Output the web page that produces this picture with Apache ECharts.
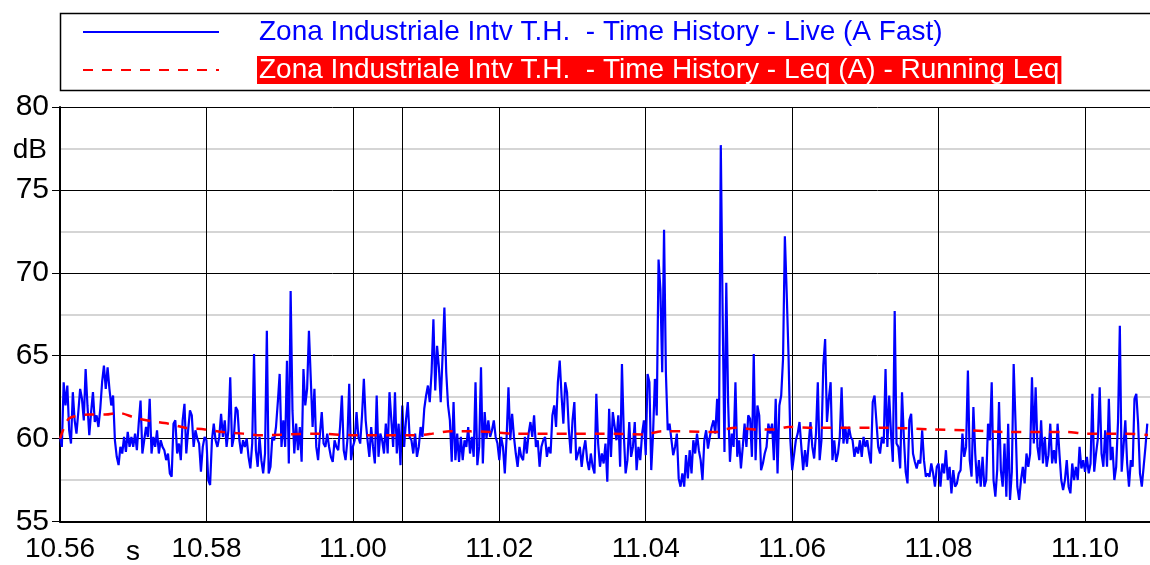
<!DOCTYPE html>
<html>
<head>
<meta charset="utf-8">
<title>Zona Industriale - Time History</title>
<script src="https://cdn.jsdelivr.net/npm/echarts@6/dist/echarts.min.js"></script>
<style>
  html, body { margin: 0; padding: 0; background: #fff; }
  #chart { width: 1150px; height: 565px; }
</style>
</head>
<body>
<div id="chart"></div>
<script>
// record starts at 10.56, one Live sample every 1.5 s (0.025 min)
const startHour = 10
const startMinute = 56
const sampleStepMin = 0.025
const cursorMin = 4.67

const liveName = 'Zona Industriale Intv T.H.  - Time History - Live (A Fast)'
const leqName = 'Zona Industriale Intv T.H.  - Time History - Leq (A) - Running Leq'

// Live (A Fast), dB
const liveDb = [
  60.1, 59.5, 63.4, 62.0, 63.2, 60.5, 59.7, 62.8, 61.1, 60.3,
  61.6, 63.0, 62.4, 61.1, 64.2, 62.0, 60.2, 61.6, 62.8, 61.0,
  61.4, 60.7, 61.8, 63.4, 64.4, 63.0, 64.3, 63.0, 62.0, 62.6,
  59.9, 58.9, 58.4, 59.5, 59.1, 60.1, 59.2, 60.4, 59.5, 60.1,
  59.5, 60.3, 59.3, 60.9, 62.3, 59.1, 59.9, 60.7, 60.1, 62.4,
  59.1, 60.1, 59.5, 60.5, 59.1, 59.9, 59.5, 59.3, 58.7, 59.1,
  57.9, 57.7, 60.9, 61.1, 59.1, 59.7, 58.7, 61.1, 62.1, 59.1,
  60.5, 61.7, 61.4, 59.5, 60.5, 60.0, 59.7, 58.0, 59.5, 60.1,
  59.9, 57.5, 57.2, 59.9, 60.9, 59.9, 59.5, 60.1, 61.5, 60.1,
  61.1, 59.5, 60.5, 63.7, 59.5, 60.1, 61.9, 61.7, 59.9, 59.1,
  59.9, 59.5, 60.0, 58.9, 58.2, 59.7, 65.1, 59.3, 58.3, 60.1,
  58.7, 57.9, 59.1, 66.5, 57.9, 58.3, 60.1, 59.9, 60.7, 62.2,
  63.9, 59.5, 61.1, 59.5, 64.7, 58.5, 68.9, 61.7, 59.1, 60.9,
  59.3, 60.7, 58.6, 64.2, 62.0, 63.0, 66.5, 63.6, 60.7, 63.0,
  59.5, 58.7, 60.3, 61.6, 59.7, 59.5, 60.3, 59.5, 58.9, 58.6,
  59.9, 59.5, 59.3, 60.7, 62.6, 59.3, 58.7, 59.9, 63.3, 58.7,
  59.5, 59.9, 61.6, 60.1, 59.7, 61.4, 63.6, 61.1, 59.9, 58.9,
  60.7, 59.5, 58.5, 62.6, 58.9, 60.3, 59.9, 59.1, 60.9, 59.1,
  62.8, 62.9, 59.5, 62.8, 59.1, 60.9, 58.4, 62.0, 59.5, 61.1,
  62.2, 60.1, 59.9, 59.1, 60.3, 58.9, 59.5, 60.7, 60.1, 61.8,
  62.6, 63.2, 62.2, 64.0, 67.2, 62.9, 65.6, 64.3, 62.2, 65.0,
  67.9, 64.0, 62.0, 61.1, 58.6, 62.2, 58.7, 60.3, 58.6, 60.1,
  58.7, 59.9, 59.5, 60.7, 59.1, 60.1, 58.9, 63.4, 58.4, 59.5,
  64.3, 58.5, 61.6, 60.0, 61.1, 60.1, 60.5, 61.1, 60.1, 59.7,
  58.7, 60.1, 59.5, 57.9, 60.1, 63.1, 59.9, 61.5, 60.1, 59.1,
  58.3, 59.5, 58.9, 58.7, 60.1, 59.1, 60.3, 61.0, 60.1, 61.4,
  59.5, 59.9, 58.3, 59.5, 59.9, 60.1, 58.9, 59.5, 59.1, 61.4,
  62.0, 60.7, 63.4, 64.7, 62.6, 60.9, 63.4, 62.8, 60.5, 59.1,
  61.1, 62.2, 58.7, 58.7, 59.5, 58.3, 59.3, 59.9, 58.7, 58.1,
  59.1, 58.3, 57.9, 62.7, 59.7, 58.3, 59.1, 58.5, 59.7, 57.4,
  61.8, 58.9, 61.6, 61.7, 59.9, 61.4, 58.3, 64.5, 60.3, 57.9,
  58.7, 61.0, 58.9, 59.5, 61.0, 58.1, 59.5, 58.7, 60.3, 61.1,
  59.0, 63.9, 63.4, 58.1, 60.3, 63.6, 61.4, 70.8, 69.0, 64.0,
  72.6, 64.0, 60.5, 60.9, 60.8, 59.0, 59.5, 60.3, 57.6, 57.1,
  57.9, 57.1, 59.0, 57.6, 59.3, 57.9, 59.9, 59.1, 60.3, 59.3,
  58.7, 57.5, 59.9, 60.5, 59.4, 60.1, 60.7, 61.1, 60.3, 62.4,
  60.0, 77.7, 67.6, 59.2, 69.4, 62.2, 58.6, 60.3, 59.5, 63.4,
  58.9, 59.9, 58.2, 59.5, 60.9, 59.5, 61.4, 61.2, 58.9, 65.1,
  58.7, 62.0, 61.4, 58.1, 58.5, 59.1, 59.5, 60.9, 60.3, 60.9,
  58.7, 62.4, 57.9, 62.0, 62.6, 64.8, 72.2, 68.8, 65.0, 59.9,
  58.1, 59.0, 59.9, 60.3, 61.0, 59.5, 58.1, 59.3, 58.3, 59.7,
  61.0, 59.5, 58.8, 60.3, 63.4, 58.7, 59.9, 64.4, 66.0, 61.0,
  62.4, 63.4, 58.7, 59.9, 58.6, 59.1, 60.1, 63.1, 59.7, 60.7,
  59.7, 60.7, 60.1, 59.9, 58.9, 59.5, 59.1, 59.9, 58.9, 60.1,
  59.5, 59.9, 59.1, 58.5, 62.2, 62.6, 62.7, 59.5, 59.1, 60.1,
  59.7, 64.2, 59.5, 62.6, 60.3, 58.6, 67.7, 59.7, 59.5, 58.2,
  62.8, 60.1, 58.0, 57.3, 61.1, 61.5, 59.1, 58.6, 58.2, 58.7,
  58.5, 60.5, 58.7, 57.7, 57.9, 57.7, 58.5, 57.9, 57.1, 58.3,
  58.5, 57.1, 58.5, 57.9, 59.3, 57.5, 58.3, 56.7, 58.1, 57.1,
  57.3, 57.9, 58.1, 60.3, 58.9, 59.5, 64.1, 58.7, 57.7, 61.9,
  59.1, 57.3, 58.7, 57.1, 58.9, 57.1, 57.5, 60.9, 59.9, 63.4,
  57.5, 56.5, 58.1, 62.2, 58.1, 57.1, 59.7, 56.5, 60.9, 56.3,
  58.0, 64.5, 61.0, 57.1, 56.3, 57.5, 58.3, 57.3, 59.1, 58.3,
  59.1, 63.7, 59.7, 63.1, 59.5, 58.7, 61.1, 58.5, 60.1, 58.3,
  59.0, 60.9, 58.5, 59.3, 58.5, 60.9, 59.1, 57.5, 56.9, 57.5,
  58.7, 57.1, 56.7, 58.5, 57.5, 58.3, 57.5, 59.5, 58.2, 58.7,
  58.0, 58.9, 57.9, 58.5, 62.7, 58.0, 59.1, 60.0, 63.1, 59.1,
  58.3, 60.5, 58.3, 62.4, 58.7, 59.5, 57.5, 58.3, 61.0, 66.8,
  58.0, 59.5, 61.1, 58.5, 57.1, 58.7, 58.3, 62.4, 62.7, 60.9,
  57.9, 57.1, 58.3, 59.5, 60.9
]

// Running Leq (A): minutes after 10.56, dB
const leqTimes = [
  0, 0.05, 0.12, 0.21, 0.39, 0.62, 0.8, 1.03, 1.25, 1.48,
  1.71, 1.98, 2.23, 2.5, 2.75, 3.48, 4.04, 4.84, 5.09, 5.33,
  5.88, 6.15, 7.43, 7.99, 8.22, 8.97, 9.07, 9.24, 9.52, 9.76,
  9.95, 10.29, 11.35, 11.9, 12.42, 12.95, 13.74, 14.01, 14.56, 14.86
]
const leqDb = [
  60.0, 60.6, 61.2, 61.35, 61.45, 61.45, 61.55, 61.25, 61.05, 60.9,
  60.65, 60.55, 60.4, 60.3, 60.2, 60.3, 60.2, 60.2, 60.3, 60.45,
  60.4, 60.3, 60.3, 60.25, 60.45, 60.4, 60.55, 60.65, 60.55, 60.55,
  60.7, 60.65, 60.65, 60.55, 60.5, 60.4, 60.4, 60.3, 60.3, 60.22
]

const font = "'Liberation Sans', Arial, sans-serif"

function clockLabel(value) {
  const total = startMinute + value
  const hour = startHour + Math.floor(total / 60)
  const minute = Math.round(total % 60)
  return `${hour}.${String(minute).padStart(2, '0')}`
}

const liveData = liveDb.map((v, i) => [+(i * sampleStepMin).toFixed(3), v])
const leqData = leqTimes.map((t, i) => [t, leqDb[i]])

const chart = echarts.init(document.getElementById('chart'), null, { renderer: 'canvas' })

chart.setOption({
  animation: false,
  backgroundColor: '#fff',
  textStyle: { fontFamily: font },
  // plot runs past the right edge, like the original window
  grid: { left: 60, right: -2, top: 107, bottom: 43.5 },
  graphic: [
    {
      type: 'rect',
      silent: true,
      shape: { x: 60.5, y: 13.5, width: 1110, height: 77 },
      style: { fill: 'none', stroke: '#000', lineWidth: 1.5 },
    },
    {
      type: 'text',
      silent: true,
      style: {
        text: 's',
        x: 133,
        y: 552,
        align: 'center',
        verticalAlign: 'middle',
        font: `28px ${font}`,
        fill: '#000',
      },
    },
  ],
  legend: {
    orient: 'vertical',
    left: 82,
    top: 18,
    padding: 0,
    itemWidth: 136,
    itemHeight: 14,
    itemGap: 10,
    selectedMode: false,
    itemStyle: { opacity: 0 },
    data: [liveName, leqName],
    formatter: (name) => (name === liveName ? `{g|}{b|${name}}` : `{g|}{r|${name}}`),
    textStyle: {
      fontFamily: font,
      fontSize: 28,
      lineHeight: 28,
      rich: {
        g: { width: 33 },
        b: { color: '#0000ff', fontSize: 28, lineHeight: 28, padding: [0, 2] },
        r: {
          color: '#fff',
          backgroundColor: '#ff0000',
          fontSize: 28,
          lineHeight: 28,
          padding: [0, 2],
        },
      },
    },
  },
  xAxis: {
    type: 'value',
    min: 0,
    max: 14.887,
    interval: 2,
    axisLine: { show: true, onZero: false, lineStyle: { color: '#000', width: 2 } },
    axisTick: { show: false },
    axisLabel: {
      color: '#000',
      fontSize: 28,
      margin: 14,
      showMaxLabel: false,
      formatter: (v) => (Math.abs(v % 2) < 1e-6 ? clockLabel(v) : ''),
    },
    splitLine: { show: true, lineStyle: { color: '#000', width: 1 } },
  },
  yAxis: {
    type: 'value',
    min: 55,
    max: 80,
    interval: 5,
    name: 'dB',
    nameLocation: 'end',
    nameGap: -43,
    nameTextStyle: {
      color: '#000',
      fontSize: 28,
      align: 'right',
      verticalAlign: 'middle',
      padding: [0, 13, 0, 0],
    },
    axisLine: { show: true, lineStyle: { color: '#000', width: 2 } },
    axisTick: { show: true, length: 8, lineStyle: { color: '#000', width: 1 } },
    axisLabel: { color: '#000', fontSize: 30, margin: 11 },
    splitLine: { show: true, lineStyle: { color: '#000', width: 1 } },
    minorTick: { show: false, splitNumber: 2 },
    minorSplitLine: { show: true, lineStyle: { color: '#c8c8c8', width: 1.5 } },
  },
  series: [
    {
      name: liveName,
      type: 'line',
      data: liveData,
      showSymbol: false,
      symbol: 'none',
      sampling: null,
      lineStyle: { color: '#0000ff', width: 2.2 },
      itemStyle: { color: '#0000ff' },
      markLine: {
        silent: true,
        symbol: 'none',
        label: { show: false },
        lineStyle: { color: '#000', width: 1, type: 'solid' },
        data: [{ xAxis: cursorMin }],
      },
    },
    {
      name: leqName,
      type: 'line',
      data: leqData,
      showSymbol: false,
      symbol: 'none',
      smooth: 0.3,
      lineStyle: { color: '#ff0000', width: 2.5, type: [10, 9] },
      itemStyle: { color: '#ff0000' },
    },
  ],
})
</script>
</body>
</html>
